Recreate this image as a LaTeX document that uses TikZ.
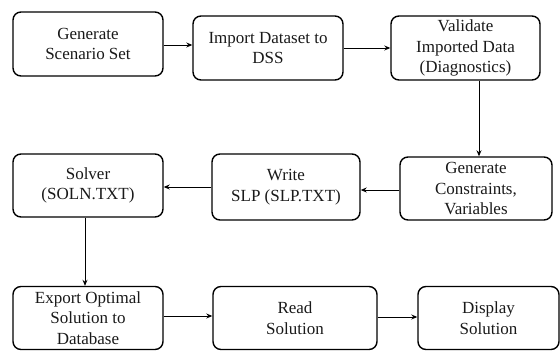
\documentclass[tikz,border=0pt]{standalone}
\usepackage{fontspec}
\setmainfont{Liberation Serif}
\usetikzlibrary{arrows.meta,calc}
\begin{document}
\begin{tikzpicture}[x=1pt,y=-1pt,
  box/.style={draw, line width=1.4pt, rounded corners=8pt, align=center, inner sep=1pt,
    font=\fontsize{17}{20.5}\selectfont, text=black!90},
  conn/.style={line width=1pt, -{Stealth[length=6pt,width=5pt]}}]
\useasboundingbox (0,0) rectangle (560,351);
\node[box, minimum width=150pt, minimum height=64pt] (b1) at (88,44) {Generate\\Scenario Set};
\node[box, minimum width=150pt, minimum height=64pt] (b2) at (268,48) {Import Dataset to\\DSS};
\node[box, minimum width=149pt, minimum height=64pt] (b3) at (465.5,48) {Validate\\Imported Data\\(Diagnostics)};
\node[box, minimum width=150pt, minimum height=63pt] (b4) at (88,185.5) {Solver\\(SOLN.TXT)};
\node[box, minimum width=148pt, minimum height=66pt] (b5) at (286,187) {Write\\SLP (SLP.TXT)};
\node[box, minimum width=152pt, minimum height=63pt] (b6) at (476,188.5) {Generate\\Constraints,\\Variables};
\node[box, minimum width=150pt, minimum height=63pt] (b7) at (88,318) {Export Optimal\\Solution to\\Database};
\node[box, minimum width=164pt, minimum height=63pt] (b8) at (295,318) {Read\\Solution};
\node[box, minimum width=141pt, minimum height=63pt] (b9) at (488.5,318) {Display\\Solution};
\draw[conn] ([yshift=-1pt]b1.east) -- ([yshift=-1pt]b1.east -| b2.west);
\draw[conn] (b2.east) -- (b3.west);
\draw[conn] ([xshift=13.5pt]b3.south) -- ([xshift=13.5pt]b3.south |- b6.north);
\draw[conn] ([yshift=-1.5pt]b6.west) -- ([yshift=-1.5pt]b6.west -| b5.east);
\draw[conn] (b5.west) -- (b5.west -| b4.east);
\draw[conn] ([xshift=-3pt]b4.south) -- ([xshift=-3pt]b4.south |- b7.north);
\draw[conn] ([yshift=2pt]b7.east) -- ([yshift=2pt]b7.east -| b8.west);
\draw[conn] ([yshift=1pt]b8.east) -- ([yshift=1pt]b8.east -| b9.west);
\end{tikzpicture}
\end{document}
